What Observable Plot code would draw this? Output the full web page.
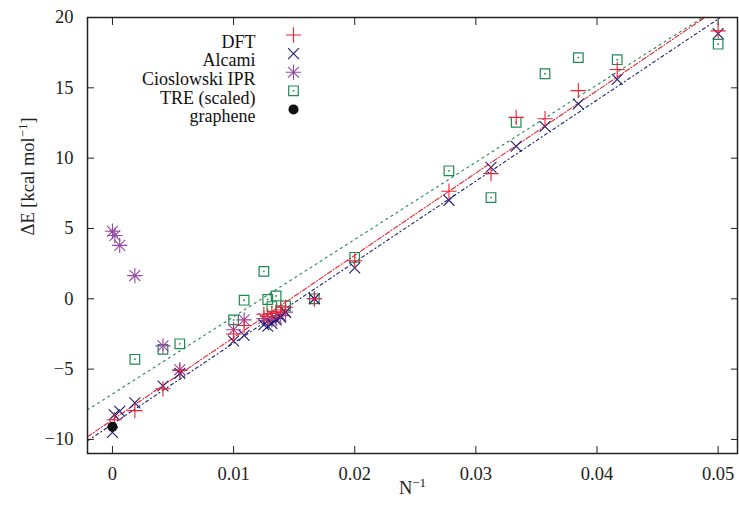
<!DOCTYPE html>
<html>
<head>
<meta charset="utf-8">
<script src="https://cdn.jsdelivr.net/npm/d3@7"></script>
<script src="https://cdn.jsdelivr.net/npm/@observablehq/plot@0.6"></script>
<style>
  html, body { margin: 0; padding: 0; background: #fff; }
  #chart svg { display: block; }
</style>
</head>
<body>
<div id="chart"></div>
<script>
// ---- data ----
const dftX   = [0.00015, 0.00185, 0.00417, 0.00556, 0.01, 0.01087, 0.0125, 0.01282, 0.01316, 0.01351, 0.01389, 0.01429, 0.01667, 0.02, 0.02778, 0.03125, 0.03333, 0.03571, 0.03846, 0.04167, 0.05];
const dftY   = [-8.6, -7.95, -6.4, -5.1, -2.5, -1.9, -1.1, -1.25, -1.05, -0.95, -0.8, -0.6, 0, 2.7, 7.65, 8.9, 12.9, 12.8, 14.8, 16.3, 19.05];

const alcamiX = [0, 0.00015, 0.0006, 0.00185, 0.00417, 0.00556, 0.01, 0.01087, 0.0125, 0.01282, 0.01316, 0.01351, 0.01389, 0.01429, 0.01667, 0.02, 0.02778, 0.03125, 0.03333, 0.03571, 0.03846, 0.04167, 0.05];
const alcamiY = [-9.5, -8.25, -8.0, -7.4, -6.2, -5.3, -3.0, -2.6, -1.85, -1.95, -1.75, -1.5, -1.3, -0.95, 0, 2.2, 7.0, 9.35, 10.85, 12.25, 13.85, 15.6, 18.85];

const ciosX = [0, 0.0002, 0.0006, 0.00185, 0.00417, 0.00556, 0.01, 0.01087, 0.0125, 0.01282, 0.01316, 0.01351, 0.01389, 0.01429, 0.01667];
const ciosY = [4.8, 4.5, 3.8, 1.65, -3.35, -5.05, -2.2, -1.5, -1.4, -1.55, -1.5, -1.4, -1.2, -0.95, 0];

const treX = [0.00185, 0.00417, 0.00556, 0.01, 0.01087, 0.0125, 0.01282, 0.01316, 0.01351, 0.01389, 0.01429, 0.01667, 0.02, 0.02778, 0.03125, 0.03333, 0.03571, 0.03846, 0.04167, 0.05];
const treY = [-4.3, -3.6, -3.2, -1.5, -0.1, 1.95, -0.05, -0.55, 0.2, -0.85, -0.5, 0, 2.95, 9.1, 7.2, 12.55, 16.0, 17.15, 17.0, 18.1];

const grapheneX = [0];
const grapheneY = [-9.1];

// fitted lines, endpoints at the frame edges
const fitX   = [-0.00206, 0.0516];
const fitTRE = [-7.90, 21.58];
const fitDFT = [-9.81, 21.58];
const fitAlc = [-10.10, 20.81];

const seriesNames = ["DFT", "Alcami", "Cioslowski IPR", "TRE (scaled)", "graphene"];
const xTicks = [0, 0.01, 0.02, 0.03, 0.04, 0.05];
const yTicks = [-10, -5, 0, 5, 10, 15, 20];

// ---- styles ----
const cRed = "#ee2233", cBlue = "#1c1c72", cPurple = "#9448a4", cGreen = "#1e8a50", cBlack = "#111";
const R = 5.0, RSQ = 5.4;
const zip = (xs, ys) => xs.map((x, i) => ({x, y: ys[i]}));
const dft = zip(dftX, dftY), alc = zip(alcamiX, alcamiY), cio = zip(ciosX, ciosY), tre = zip(treX, treY), gra = zip(grapheneX, grapheneY);
const line = (ys) => zip(fitX, ys);

const legendRow = (i) => 17.5 + i * 18.6;
const legendMarks = [];
seriesNames.forEach((name, i) => {
  legendMarks.push(Plot.text([name], {frameAnchor: "top-left", text: d => d, dx: 168, dy: legendRow(i), textAnchor: "end", fontSize: 18, fill: "#111"}));
});
const sym = (i, opts) => Plot.dot([0], {frameAnchor: "top-left", dx: 206, dy: legendRow(i), ...opts});
legendMarks.push(
  sym(0, {symbol: "plus", r: R, stroke: cRed, strokeWidth: 1.1}),
  sym(1, {symbol: "times", r: R, stroke: cBlue, strokeWidth: 1.1}),
  sym(2, {symbol: "plus", r: R, stroke: cPurple, strokeWidth: 1.1}),
  sym(2, {symbol: "times", r: R, stroke: cPurple, strokeWidth: 1.1}),
  sym(3, {symbol: "square", r: RSQ, stroke: cGreen, strokeWidth: 1.2}),
  sym(3, {r: 0.9, fill: cGreen}),
  sym(4, {r: 5, fill: cBlack})
);

const chart = Plot.plot({
  width: 739,
  height: 508,
  marginLeft: 87,
  marginRight: 2,
  marginTop: 17,
  marginBottom: 55,
  x: {domain: [-0.00206, 0.0516]},
  y: {domain: [-11, 20]},
  style: {fontFamily: "'Liberation Serif', serif", fontSize: "18.5px", color: "#222", background: "#fff"},
  marks: [
    // fit lines
    Plot.line(line(fitTRE), {x: "x", y: "y", stroke: cGreen, strokeWidth: 1.1, strokeDasharray: "2,4", clip: true}),
    Plot.line(line(fitDFT), {x: "x", y: "y", stroke: cRed, strokeWidth: 1.1, strokeDasharray: "5,2,1,2", clip: true}),
    Plot.line(line(fitAlc), {x: "x", y: "y", stroke: cBlue, strokeWidth: 1.1, strokeDasharray: "3,3,1,3", clip: true}),
    // points
    Plot.dot(tre, {x: "x", y: "y", symbol: "square", r: RSQ, stroke: cGreen, strokeWidth: 1.2}),
    Plot.dot(tre, {x: "x", y: "y", r: 0.9, fill: cGreen}),
    Plot.dot(cio, {x: "x", y: "y", symbol: "plus", r: R, stroke: cPurple, strokeWidth: 1.1}),
    Plot.dot(cio, {x: "x", y: "y", symbol: "times", r: R, stroke: cPurple, strokeWidth: 1.1}),
    Plot.dot(alc, {x: "x", y: "y", symbol: "times", r: R, stroke: cBlue, strokeWidth: 1.1}),
    Plot.dot(dft, {x: "x", y: "y", symbol: "plus", r: R, stroke: cRed, strokeWidth: 1.1}),
    Plot.dot(gra, {x: "x", y: "y", r: 5, fill: cBlack}),
    // inward ticks on all sides
    Plot.axisX(xTicks, {anchor: "bottom", tickSize: -7, tickFormat: () => "", label: null, stroke: "#222"}),
    Plot.axisX(xTicks, {anchor: "top", tickSize: -7, tickFormat: () => "", label: null, stroke: "#222"}),
    Plot.axisY(yTicks, {anchor: "left", tickSize: -7, tickFormat: () => "", label: null, stroke: "#222"}),
    Plot.axisY(yTicks, {anchor: "right", tickSize: -7, tickFormat: () => "", label: null, stroke: "#222"}),
    // tick labels
    Plot.axisX(xTicks, {anchor: "bottom", tickSize: 0, tickPadding: 13, tickFormat: d => d === 0 ? "0" : d3.format(".2f")(d), label: null, fill: "#222", fontFamily: "'Liberation Serif', serif"}),
    Plot.axisY(yTicks, {anchor: "left", tickSize: 0, tickPadding: 14, label: null, fill: "#222", fontFamily: "'Liberation Serif', serif"}),
    Plot.frame({stroke: "#222", strokeWidth: 1.5}),
    // axis titles (superscripts fixed up below)
    Plot.text(["N-1"], {frameAnchor: "bottom", text: d => d, dy: 40, fontSize: 18.5, fill: "#222"}),
    Plot.text(["dE"], {frameAnchor: "left", text: d => d, dx: -59, rotate: -90, fontSize: 18.5, fill: "#222"}),
    ...legendMarks
  ]
});
document.getElementById("chart").appendChild(chart);

// typeset superscripts as real text with tspans
const NS = "http://www.w3.org/2000/svg";
function typeset(el, parts) {
  while (el.firstChild) el.removeChild(el.firstChild);
  parts.forEach(([txt, dy, size]) => {
    const t = document.createElementNS(NS, "tspan");
    t.textContent = txt;
    if (dy) t.setAttribute("dy", dy);
    if (size) t.setAttribute("font-size", size);
    el.appendChild(t);
  });
}
chart.querySelectorAll("text").forEach(el => {
  if (el.textContent === "N-1") {
    typeset(el, [["N", 0, null], ["\u22121", "-7", "13"]]);
  } else if (el.textContent === "dE") {
    typeset(el, [["\u0394E [kcal mol", 0, null], ["\u22121", "-7", "13"], ["]", "7", null]]);
  }
});
</script>
</body>
</html>
